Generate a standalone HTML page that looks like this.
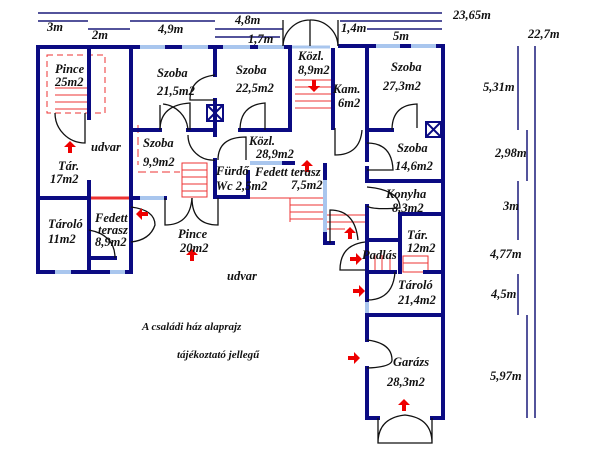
<!DOCTYPE html>
<html><head><meta charset="utf-8"><style>
body{margin:0;background:#fff}
svg{display:block}
text{font-family:"Liberation Serif",serif;font-style:italic;font-weight:bold;font-size:12.5px;fill:#111}
</style></head><body>
<svg width="600" height="450" viewBox="0 0 600 450" xmlns="http://www.w3.org/2000/svg">
<defs>
<g id="ar"><path d="M1,-6 L7,0 L1,6 Z M-5,-2 L2,-2 L2,2 L-5,2Z" fill="#e00"/></g>
</defs>
<g stroke="#1a1a7a" stroke-width="1.5">
<line x1="38" y1="13" x2="442" y2="13"/>
<line x1="38" y1="21" x2="88" y2="21"/>
<line x1="88" y1="29" x2="130" y2="29"/>
<line x1="130" y1="21" x2="215" y2="21"/>
<line x1="215" y1="29" x2="283" y2="29"/>
<line x1="215" y1="37" x2="280" y2="37"/>
<line x1="340" y1="21" x2="442" y2="21"/>
<line x1="367" y1="29" x2="442" y2="29"/>
<line x1="518" y1="46" x2="518" y2="130"/>
<line x1="535" y1="46" x2="535" y2="418"/>
<line x1="527" y1="130" x2="527" y2="181"/>
<line x1="518" y1="181" x2="518" y2="240"/>
<line x1="518" y1="274" x2="518" y2="315"/>
<line x1="527" y1="315" x2="527" y2="418"/>
</g>
<g stroke="#e33" stroke-width="1" fill="none">
<rect x="47" y="55" width="58" height="58" stroke-dasharray="6,4"/>
<line x1="55" y1="88" x2="88" y2="88"/><line x1="55" y1="95" x2="88" y2="95"/><line x1="55" y1="102" x2="88" y2="102"/><line x1="55" y1="109" x2="88" y2="109"/>
<line x1="295" y1="80" x2="331" y2="80"/><line x1="295" y1="87" x2="331" y2="87"/><line x1="295" y1="94" x2="331" y2="94"/><line x1="295" y1="101" x2="331" y2="101"/><line x1="295" y1="108" x2="331" y2="108"/>
<line x1="138" y1="172" x2="180" y2="172" stroke-dasharray="8,4"/>
<line x1="138" y1="125" x2="138" y2="165" stroke-dasharray="8,4"/>
<rect x="182" y="163" width="25" height="34"/>
<line x1="182" y1="170" x2="207" y2="170"/><line x1="182" y1="177" x2="207" y2="177"/><line x1="182" y1="184" x2="207" y2="184"/><line x1="182" y1="191" x2="207" y2="191"/>
<line x1="250" y1="198" x2="325" y2="198"/>
<line x1="290" y1="198" x2="290" y2="222"/>
<line x1="290" y1="205" x2="325" y2="205"/><line x1="290" y1="212" x2="325" y2="212"/><line x1="290" y1="219" x2="325" y2="219"/>
<line x1="325" y1="215" x2="365" y2="215"/><line x1="325" y1="222" x2="365" y2="222"/><line x1="325" y1="229" x2="345" y2="229"/>
<line x1="375" y1="255" x2="375" y2="272"/><line x1="382" y1="255" x2="382" y2="272"/><line x1="390" y1="255" x2="390" y2="272"/>
<rect x="403" y="256" width="25" height="16"/><line x1="403" y1="263" x2="428" y2="263"/>
<line x1="89" y1="198" x2="131" y2="198" stroke-width="3"/>
</g>
<g stroke="#0b0b82" stroke-width="4" fill="none" stroke-linecap="square">
<polyline points="290,47 38,47 38,272 131,272 131,200"/>
<line x1="89" y1="47" x2="89" y2="118"/>
<line x1="89" y1="182" x2="89" y2="272"/>
<line x1="38" y1="198" x2="89" y2="198"/>
<line x1="131" y1="47" x2="131" y2="200"/>
<line x1="131" y1="198" x2="165" y2="198"/>
<line x1="131" y1="130" x2="160" y2="130"/>
<line x1="188" y1="130" x2="215" y2="130"/>
<line x1="240" y1="130" x2="290" y2="130"/>
<line x1="215" y1="47" x2="215" y2="75"/>
<line x1="215" y1="100" x2="215" y2="135"/>
<line x1="290" y1="50" x2="290" y2="130"/>
<line x1="333" y1="50" x2="333" y2="128"/>
<polyline points="340,46 443,46 443,315"/>
<line x1="367" y1="46" x2="367" y2="160"/>
<line x1="367" y1="130" x2="392" y2="130"/>
<line x1="367" y1="181" x2="443" y2="181"/>
<line x1="367" y1="168" x2="367" y2="181"/>
<line x1="367" y1="206" x2="367" y2="300"/>
<line x1="400" y1="214" x2="443" y2="214"/>
<line x1="400" y1="214" x2="400" y2="272"/>
<line x1="367" y1="240" x2="400" y2="240"/>
<line x1="367" y1="272" x2="395" y2="272"/>
<line x1="425" y1="272" x2="443" y2="272"/>
<line x1="367" y1="315" x2="443" y2="315"/>
<polyline points="367,340 367,315"/>
<polyline points="367,368 367,418 378,418"/>
<polyline points="432,418 443,418 443,315"/>
<line x1="215" y1="160" x2="215" y2="197"/>
<polyline points="218,197 248,197 248,172"/>
<line x1="283" y1="163" x2="293" y2="163"/>
<polyline points="325,165 325,243 333,243"/>
<line x1="89" y1="258" x2="115" y2="258"/>
</g>
<g stroke="#a9c6ee" stroke-width="4">
<line x1="140" y1="47" x2="165" y2="47"/><line x1="182" y1="47" x2="208" y2="47"/><line x1="223" y1="47" x2="250" y2="47"/><line x1="258" y1="47" x2="284" y2="47"/>
<line x1="376" y1="46" x2="400" y2="46"/><line x1="411" y1="46" x2="436" y2="46"/>
<line x1="140" y1="198" x2="164" y2="198"/>
<line x1="250" y1="163" x2="282" y2="163"/>
<line x1="325" y1="180" x2="325" y2="232"/>
<line x1="55" y1="272" x2="71" y2="272"/><line x1="110" y1="272" x2="125" y2="272"/>
<line x1="367" y1="302" x2="367" y2="313"/>
<line x1="292" y1="47" x2="330" y2="47" stroke-width="3"/>
</g>
<g stroke="#0b0b82" stroke-width="2" fill="none">
<rect x="207" y="105" width="16" height="16"/><path d="M207,105 L223,121 M223,105 L207,121"/>
<rect x="426" y="122" width="15" height="15"/><path d="M426,122 L441,137 M441,122 L426,137"/>
</g>
<g stroke="#111" stroke-width="1.3" fill="none">
<path d="M55,113 A30,30 0 0 0 85,143 L85,113"/>
<path d="M160,130 Q160,105 190,103 L190,130"/>
<path d="M215,75 Q190,78 190,100 L215,100"/>
<path d="M160,105 L160,130"/>
<path d="M163,104 A28,28 0 0 1 188,130"/>
<path d="M188,135 A25,25 0 0 0 215,160"/>
<path d="M218,160 Q218,137 246,137 L246,160"/>
<path d="M240,130 Q240,105 265,103 L265,130"/>
<path d="M283,46 A27,27 0 0 1 310,20 A27,27 0 0 1 338,46"/>
<path d="M310,20 L310,46"/>
<path d="M283,20 L283,46 M338,20 L338,46"/>
<path d="M335,128 L335,155 Q360,155 362,130"/>
<path d="M392,130 Q392,105 417,104 L417,128"/>
<path d="M367,143 Q392,143 393,170 L367,170"/>
<path d="M367,187 Q400,190 400,208 Q372,210 367,206"/>
<path d="M330,243 L330,210 Q355,210 358,240"/>
<path d="M365,242 Q340,245 340,270 L365,270"/>
<path d="M395,272 Q393,300 367,300"/>
<path d="M367,340 Q392,343 392,360 Q392,367 367,368"/>
<path d="M378,418 L378,443 L432,443 L432,418 M378,443 Q378,418 405,415 Q432,418 432,443"/>
<path d="M165,198 L165,225 Q190,225 192,198"/>
<path d="M192,198 Q192,225 218,225 L218,198"/>
<path d="M131,207 Q155,210 155,225 Q150,240 131,242"/>
<path d="M89,230 Q115,235 115,258"/>
</g>
<use href="#ar" transform="translate(70,148) rotate(-90)"/>
<use href="#ar" transform="translate(143,214) rotate(180)"/>
<use href="#ar" transform="translate(192,256) rotate(-90)"/>
<use href="#ar" transform="translate(314,85) rotate(90)"/>
<use href="#ar" transform="translate(307,167) rotate(-90)"/>
<use href="#ar" transform="translate(350,234) rotate(-90)"/>
<use href="#ar" transform="translate(355,259)"/>
<use href="#ar" transform="translate(358,291)"/>
<use href="#ar" transform="translate(353,358)"/>
<use href="#ar" transform="translate(404,406) rotate(-90)"/>
<text x="47" y="31">3m</text><text x="92" y="39">2m</text><text x="158" y="33">4,9m</text>
<text x="235" y="24">4,8m</text><text x="248" y="43">1,7m</text><text x="341" y="32">1,4m</text>
<text x="393" y="40">5m</text><text x="453" y="19">23,65m</text><text x="528" y="38">22,7m</text>
<text x="483" y="91">5,31m</text><text x="495" y="157">2,98m</text><text x="503" y="210">3m</text>
<text x="490" y="258">4,77m</text><text x="491" y="298">4,5m</text><text x="490" y="380">5,97m</text>
<text x="55" y="73">Pince</text><text x="55" y="86">25m2</text>
<text x="91" y="151">udvar</text>
<text x="58" y="170">Tár.</text><text x="50" y="183">17m2</text>
<text x="157" y="77">Szoba</text><text x="157" y="95">21,5m2</text>
<text x="236" y="74">Szoba</text><text x="236" y="92">22,5m2</text>
<text x="298" y="60">Közl.</text><text x="298" y="74">8,9m2</text>
<text x="333" y="93">Kam.</text><text x="338" y="107">6m2</text>
<text x="391" y="71">Szoba</text><text x="383" y="90">27,3m2</text>
<text x="397" y="152">Szoba</text><text x="395" y="170">14,6m2</text>
<text x="386" y="198">Konyha</text><text x="392" y="212">8,3m2</text>
<text x="143" y="147">Szoba</text><text x="143" y="166">9,9m2</text>
<text x="249" y="145">Közl.</text><text x="256" y="158">28,9m2</text>
<text x="216" y="175">Fürdő</text><text x="216" y="190">Wc 2,5m2</text>
<text x="255" y="176">Fedett terasz</text><text x="291" y="189">7,5m2</text>
<text x="48" y="228">Tároló</text><text x="48" y="243">11m2</text>
<text x="95" y="222">Fedett</text><text x="98" y="234">terasz</text><text x="95" y="246">8,9m2</text>
<text x="178" y="238">Pince</text><text x="180" y="252">20m2</text>
<text x="227" y="280">udvar</text>
<text x="362" y="259">Padlás</text>
<text x="407" y="239">Tár.</text><text x="407" y="252">12m2</text>
<text x="398" y="289">Tároló</text><text x="398" y="304">21,4m2</text>
<text x="393" y="366">Garázs</text><text x="387" y="386">28,3m2</text>
<text x="142" y="330" style="font-size:11px">A családi ház alaprajz</text>
<text x="177" y="358" style="font-size:11px">tájékoztató jellegű</text>
</svg>
</body></html>
